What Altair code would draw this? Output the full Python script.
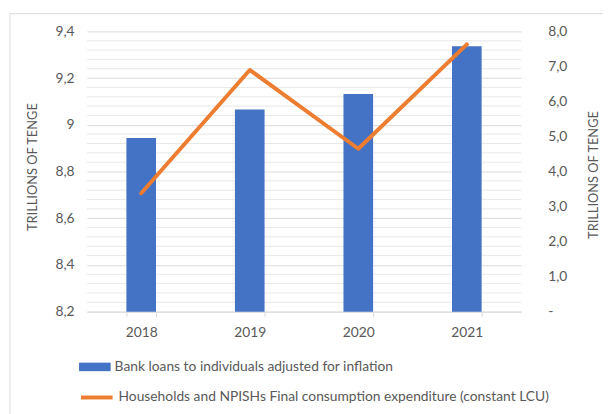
import altair as alt
import pandas as pd

years = ["2018", "2019", "2020", "2021"]
loans = [8.944, 9.066, 9.132, 9.337]
consumption = [3.38, 6.90, 4.65, 7.63]
left_ticks = [8.2, 8.4, 8.6, 8.8, 9.0, 9.2, 9.4]
right_ticks = [0, 1, 2, 3, 4, 5, 6, 7, 8]
minor_ticks = [round(8.2 + 0.04 * i, 2) for i in range(31) if i % 5 != 0]
bar_name = "Bank loans to individuals adjusted for inflation"
line_name = "Households and NPISHs Final consumption expenditure (constant LCU)"

df = pd.DataFrame({"year": years, "loans": loans, "cons": consumption,
                   "bar_series": bar_name, "line_series": line_name})
minor_df = pd.DataFrame({"v": minor_ticks})
one = pd.DataFrame({"a": [0]})

FONT = "Lato"
GREY = "#595959"
GRID = "#d9d9d9"

xscale = alt.Scale(paddingInner=0.727, paddingOuter=0.3636)
xaxis = alt.Axis(title=None, labelAngle=0, labelFont=FONT, labelFontSize=14, labelColor=GREY,
                 labelPadding=9, ticks=True, tickBand="extent", tickSize=5, tickColor=GRID,
                 domainColor=GRID, grid=False)
xenc = alt.X("year:N", scale=xscale, sort=years, axis=xaxis)

yleft = alt.Scale(domain=[8.2, 9.4], zero=False, nice=False)
left_axis = alt.Axis(values=left_ticks, title="TRILLIONS OF TENGE", titleFont=FONT, titleFontSize=13,
                     titleColor=GREY, titleFontWeight="normal", titleX=-55, titleY=137, titleAngle=270,
                     titleBaseline="middle", titleAlign="center",
                     labelExpr="replace(format(datum.value, '.2~f'), '.', ',')",
                     labelFont=FONT, labelFontSize=14, labelColor=GREY, labelPadding=13,
                     ticks=False, domain=False, grid=True, gridColor=GRID)
right_axis = alt.Axis(orient="right", values=right_ticks, title="TRILLIONS OF TENGE", titleFont=FONT,
                      titleFontSize=13, titleColor=GREY, titleFontWeight="normal", titleX=73, titleY=145,
                      titleAngle=270, titleBaseline="middle", titleAlign="center",
                      labelExpr="datum.value == 0 ? '-' : replace(format(datum.value, '.1f'), '.', ',')",
                      labelFont=FONT, labelFontSize=14, labelColor=GREY, labelPadding=27,
                      ticks=False, domain=False, grid=False)

minor = alt.Chart(minor_df).mark_rule(color="#e8e8e8", strokeWidth=1).encode(
    y=alt.Y("v:Q", scale=yleft, axis=left_axis)
)

bars = alt.Chart(df).mark_bar().encode(
    x=xenc,
    y=alt.Y("loans:Q", scale=yleft, axis=left_axis),
    y2=alt.datum(8.2),
    color=alt.Color("bar_series:N", scale=alt.Scale(domain=[bar_name], range=["#4472C4"]),
                    legend=alt.Legend(orient="none", legendX=-8, legendY=324, title=None,
                                      symbolType="M-1,-0.27H1V0.27H-1Z", symbolSize=1024,
                                      symbolStrokeWidth=0, labelFont=FONT, labelFontSize=14,
                                      labelColor=GREY, labelOffset=4, labelLimit=0)),
)

line = alt.Chart(df).mark_line(strokeWidth=4, strokeCap="round", strokeJoin="round").encode(
    x=xenc,
    y=alt.Y("cons:Q", scale=alt.Scale(domain=[0, 8], nice=False, zero=True), axis=right_axis),
    stroke=alt.Stroke("line_series:N", scale=alt.Scale(domain=[line_name], range=["#ED7D31"]),
                      legend=alt.Legend(orient="none", legendX=-8, legendY=353, title=None,
                                        symbolType="stroke", symbolSize=1024, symbolStrokeWidth=4,
                                        labelFont=FONT, labelFontSize=14, labelColor=GREY,
                                        labelOffset=4, labelLimit=0)),
)

border_top = alt.Chart(one).mark_rule(color=GRID, strokeWidth=1).encode(
    x=alt.value(-78), x2=alt.value(530), y=alt.value(-18)
)
border_left = alt.Chart(one).mark_rule(color=GRID, strokeWidth=1).encode(
    x=alt.value(-78), y=alt.value(-18), y2=alt.value(400)
)

left_layer = alt.layer(minor, bars)
chart = alt.layer(left_layer, line, border_top, border_left).resolve_scale(
    y="independent", color="independent", stroke="independent"
).properties(
    width=440, height=284,
    autosize=alt.AutoSizeParams(type="none"),
    padding={"left": 80, "top": 21, "right": 83, "bottom": 101},
    background="white",
).configure_view(stroke=None)

chart.save("out.html", embed_options={"renderer": "svg", "actions": False})
